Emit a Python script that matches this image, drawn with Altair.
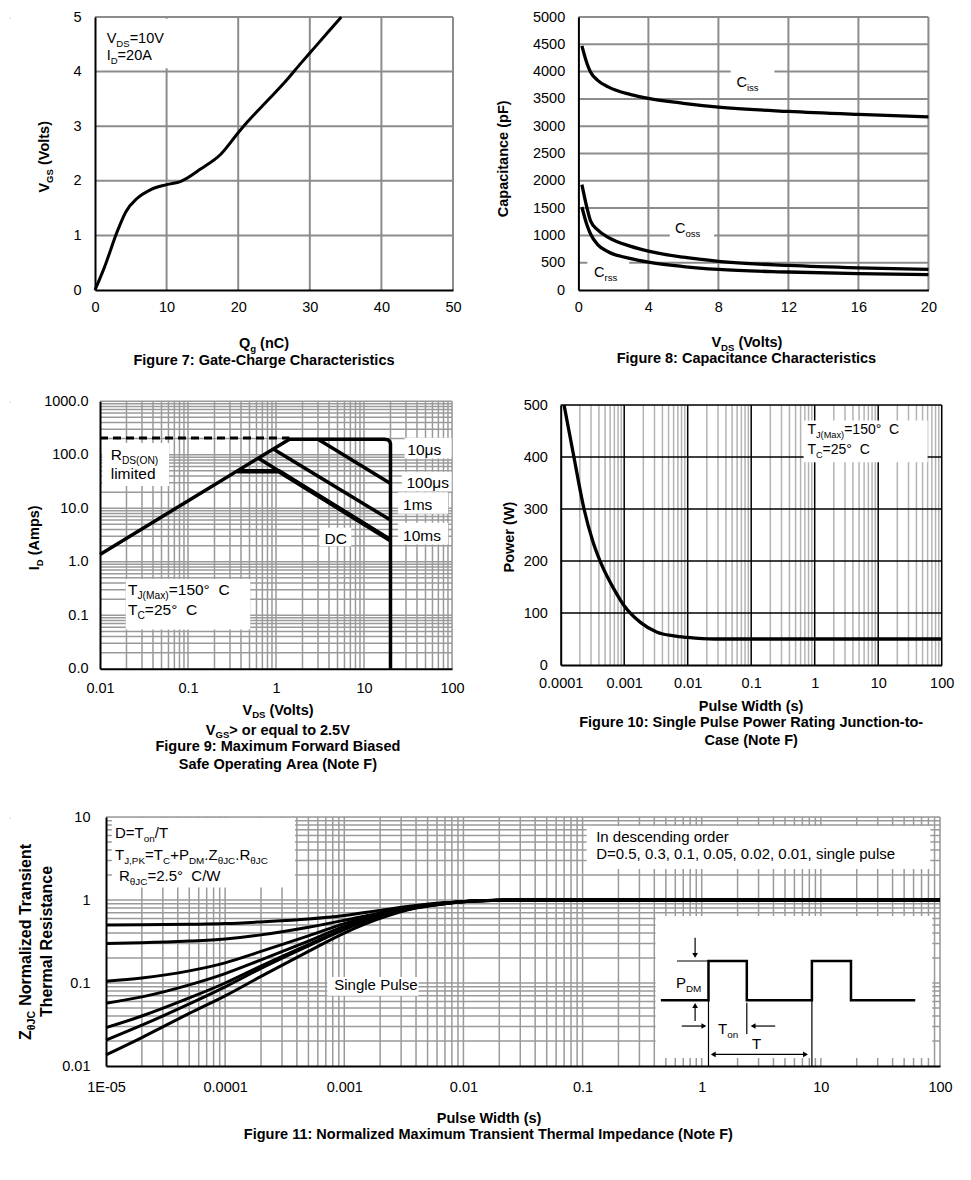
import altair as alt
import pandas as pd

FONT = "Liberation Sans"
SUB = 0.66
LFS = 14.5
GRID_A = "#8c8c8c"
GRID_B = "#9a9a9a"
GRID_C = "#b4b4b4"

# ---------------- Figure 7: gate charge ----------------
QG = [0, 1.3, 3.1, 4.3, 5.9, 7.8, 10, 12, 14.8, 17.6, 20, 21.3, 24.1, 26.4, 28.8, 30.6, 34.4]
VGS = [0, 0.41, 1.07, 1.43, 1.68, 1.84, 1.93, 1.99, 2.22, 2.49, 2.88, 3.08, 3.47, 3.79, 4.16, 4.43, 5.0]
T7X = [0, 10, 20, 30, 40, 50]
T7Y = [0, 1, 2, 3, 4, 5]

# ---------------- Figure 8: capacitance ----------------
VDS8 = [0.2, 0.5, 0.7, 1.1, 1.7, 3, 4, 6, 8, 12, 16, 20]
CISS = [4470, 4140, 3990, 3840, 3720, 3580, 3510, 3420, 3350, 3270, 3215, 3170]
COSS = [1930, 1490, 1260, 1100, 965, 800, 712, 600, 525, 450, 405, 378]
CRSS = [1520, 1180, 1020, 830, 700, 575, 510, 430, 378, 330, 300, 282]
T8X = [0, 4, 8, 12, 16, 20]
T8Y = [0, 500, 1000, 1500, 2000, 2500, 3000, 3500, 4000, 4500, 5000]

# ---------------- Figure 9: SOA ----------------
SOA_DASH_X = [0.01, 1.42]
SOA_DASH_Y = [205, 205]
SOA_10US_X = [0.01, 1.42, 17, 18.7, 19.6, 20, 20]
SOA_10US_Y = [1.37, 195, 195, 190, 178, 160, 0.01]
SOA_100US_X = [3.0, 20]
SOA_100US_Y = [195, 29]
SOA_1MS_X = [0.93, 20]
SOA_1MS_Y = [128, 6.0]
SOA_10MS_X = [0.63, 20]
SOA_10MS_Y = [86, 2.6]
SOA_DC_X = [0.36, 1.08, 20]
SOA_DC_Y = [49, 49, 2.5]
T9X = [0.01, 0.1, 1, 10, 100]
T9Y = [0.01, 0.1, 1, 10, 100, 1000]

# ---------------- Figure 10: single pulse power ----------------
PW_T = [1.13e-4, 1.62e-4, 2.33e-4, 3.2e-4, 4.27e-4, 6.9e-4, 1e-3, 1.8e-3, 3.3e-3, 6e-3, 9.9e-3, 2.6e-2, 100]
PW_P = [500, 399, 300, 238, 197, 146, 114, 82, 63, 56, 53, 50, 50]
T10X = [1e-4, 1e-3, 1e-2, 0.1, 1, 10, 100]
T10Y = [0, 100, 200, 300, 400, 500]

# ---------------- Figure 11: transient thermal impedance ----------------
TH_X = [1e-5, 2e-5, 5e-5, 1e-4, 2e-4, 5e-4, 1e-3, 2e-3, 4e-3, 7e-3, 1.2e-2, 2e-2, 3e-2, 100]
TH_D05 = [0.50, 0.502, 0.51, 0.52, 0.545, 0.59, 0.65, 0.75, 0.86, 0.93, 0.97, 0.995, 1.0, 1.0]
TH_D03 = [0.30, 0.305, 0.32, 0.34, 0.38, 0.47, 0.57, 0.70, 0.84, 0.92, 0.97, 0.995, 1.0, 1.0]
TH_D01 = [0.105, 0.115, 0.14, 0.175, 0.24, 0.37, 0.52, 0.68, 0.83, 0.92, 0.97, 0.995, 1.0, 1.0]
TH_D005 = [0.057, 0.068, 0.095, 0.13, 0.19, 0.32, 0.48, 0.66, 0.82, 0.91, 0.97, 0.995, 1.0, 1.0]
TH_D002 = [0.029, 0.040, 0.066, 0.10, 0.16, 0.29, 0.45, 0.64, 0.81, 0.91, 0.97, 0.995, 1.0, 1.0]
TH_D001 = [0.0205, 0.031, 0.056, 0.09, 0.15, 0.28, 0.44, 0.63, 0.81, 0.91, 0.97, 0.995, 1.0, 1.0]
TH_SP = [0.0136, 0.022, 0.043, 0.07, 0.12, 0.24, 0.40, 0.60, 0.80, 0.90, 0.97, 0.995, 1.0, 1.0]
T11X = [1e-5, 1e-4, 1e-3, 1e-2, 0.1, 1, 10, 100]
T11Y = [0.01, 0.1, 1, 10]
PULSE_X = [0.454, 1.14, 1.14, 2.39, 2.39, 8.41, 8.41, 17.9, 17.9, 62]
PULSE_Y = [0.0619, 0.0619, 0.184, 0.184, 0.0619, 0.0619, 0.184, 0.184, 0.0619, 0.0619]
INSET_SEG = [
    (0.62, 0.184, 1.14, 0.184),
    (0.88, 0.351, 0.88, 0.21),
    (0.88, 0.0348, 0.88, 0.055),
    (0.68, 0.0303, 1.06, 0.0303),
    (4.14, 0.0303, 2.65, 0.0303),
    (1.14, 0.0619, 1.14, 0.0100),
    (2.39, 0.058, 2.39, 0.0243),
    (8.41, 0.0619, 8.41, 0.0100),
    (1.22, 0.0138, 7.6, 0.0138),
]
INSET_HEADS = [
    (0.88, 0.215, "triangle-down"), (0.88, 0.0535, "triangle-up"),
    (1.043, 0.0303, "triangle-right"), (2.70, 0.0303, "triangle-left"),
    (1.25, 0.0138, "triangle-left"), (7.43, 0.0138, "triangle-right"),
]

# ---------------- font metrics (Arial / Liberation Sans) ----------------
REG = {}
for w, chars in {222: "ijl", 278: " \u00a0!,./:;Ift", 333: "()-r", 400: "\u00b0",
                 500: "Jckvsxyz", 556: "0123456789abdeghnopquL\u03bc\u03b8",
                 584: "=+<>", 611: "FTZ", 667: "ABEKPSVXY", 722: "CDHNRUw",
                 778: "GOQ", 833: "Mm", 944: "W"}.items():
    for c in chars:
        REG[c] = w
BOLD = {}
for w, chars in {278: " \u00a0,./ijlI", 333: "():-ft", 389: "r", 400: "\u00b0", 500: "z",
                 556: "0123456789aceksvxyJ\u03bc", 584: "=+<>", 611: "bdghnopquFLTZ\u03b8",
                 667: "EPSVXY", 722: "ABCDHKNRU", 778: "GOQw", 833: "M", 889: "m",
                 944: "W"}.items():
    for c in chars:
        BOLD[c] = w

ONE = [{"k": 0}]


def tw(s, fs, bold):
    t = BOLD if bold else REG
    return sum(t.get(c, 556) for c in s) * fs / 1000.0


def axis(vals, pad, fmt=None, expr=None):
    kw = dict(values=vals, grid=False, ticks=False, tickSize=0, domainColor="black",
              domainWidth=2, labelFont=FONT, labelFontSize=LFS, labelColor="black",
              labelPadding=pad, title=None, zindex=1, labelFlush=False, labelOverlap=False)
    if fmt:
        kw["format"] = fmt
    if expr:
        kw["labelExpr"] = expr
    return alt.Axis(**kw)


def X(field, P):
    return alt.X(field, scale=P["xs"], axis=P["ax"])


def Y(field, P):
    return alt.Y(field, scale=P["ys"], axis=P["ay"])


def rich(P, segs, x, y, fs=14.5, bold=False, align="left", angle=0, ox=0.0, oy=0.0):
    sizes = [fs * SUB if sub else fs for _, sub in segs]
    ws = [tw(t, s, bold) for (t, _), s in zip(segs, sizes)]
    total = sum(ws)
    cur = {"left": 0.0, "center": -total / 2.0, "right": -total}[align]
    out = []
    for (t, sub), s, w in zip(segs, sizes, ws):
        shift = fs * 0.27 if sub else 0.0
        lead = len(t) - len(t.lstrip(" "))
        pos = cur + tw(" " * lead, s, bold)
        txt = t.strip(" ").replace(" ", "\u00a0")
        if angle:
            dx, dy = pos - oy, ox + shift
        else:
            dx, dy = ox + pos, oy + shift
        props = dict(text=txt, align="left", baseline="alphabetic", font=FONT,
                     fontSize=round(s, 2), fontWeight="bold" if bold else "normal",
                     color="black", dx=round(dx, 2), dy=round(dy, 2))
        if angle:
            props["angle"] = angle
        out.append(alt.Chart(alt.Data(values=ONE)).mark_text(**props).encode(
            x=alt.XDatum(x, type="quantitative", scale=P["xs"], axis=P["ax"]),
            y=alt.YDatum(y, type="quantitative", scale=P["ys"], axis=P["ay"])))
        cur += w
    return out


def df_xy(xs, ys, name="a"):
    return pd.DataFrame({"x": xs, "y": ys, "i": list(range(len(xs))), "s": name})


def minors(lo, hi):
    return [m * 10.0 ** e for e in range(lo, hi) for m in range(2, 10)]


def vgrid(P, vals, color, w):
    return alt.Chart(pd.DataFrame({"v": vals})).mark_rule(color=color, strokeWidth=w).encode(
        x=X("v:Q", P))


def hgrid(P, vals, color, w):
    return alt.Chart(pd.DataFrame({"v": vals})).mark_rule(color=color, strokeWidth=w).encode(
        y=Y("v:Q", P))


def boxes(P, rects):
    d = pd.DataFrame(rects, columns=["x1", "x2", "y1", "y2"])
    return alt.Chart(d).mark_rect(color="white").encode(
        x=X("x1:Q", P), x2="x2:Q", y=Y("y1:Q", P), y2="y2:Q")


def curves(P, d, width, dash=None, interp="monotone"):
    props = dict(color="black", strokeWidth=width, interpolate=interp)
    if dash:
        props["strokeDash"] = dash
    return alt.Chart(d).mark_line(**props).encode(
        x=X("x:Q", P), y=Y("y:Q", P), detail="s:N", order="i:Q")


def marker(x, y1, y2):
    return alt.Chart(alt.Data(values=ONE)).mark_rule(color="white", strokeWidth=1).encode(
        x=alt.value(x), y=alt.value(y1), y2=alt.value(y2))


def spacer():
    return alt.Chart(alt.Data(values=ONE)).mark_rect(color="white").encode(
        x=alt.value(0), x2=alt.value(1), y=alt.value(0), y2=alt.value(1)
    ).properties(width=1, height=1)


# ================= Figure 7 =================
P7 = dict(xs=alt.Scale(domain=[0, 50], nice=False, zero=False),
          ys=alt.Scale(domain=[0, 5], nice=False, zero=False),
          ax=axis(T7X, 10), ay=axis(T7Y, 14))
L7 = [vgrid(P7, T7X[1:], GRID_A, 2), hgrid(P7, T7Y[1:], GRID_A, 2),
      boxes(P7, [(0, 10.6, 4.06, 4.97)]),
      curves(P7, df_xy(QG, VGS), 3)]
L7 += rich(P7, [("V", 0), ("DS", 1), ("=10V", 0)], 1.63, 4.53)
L7 += rich(P7, [("I", 0), ("D", 1), ("=20A", 0)], 1.63, 4.22)
L7 += rich(P7, [("V", 0), ("GS", 1), (" (Volts)", 0)], 0, 2.45, bold=True,
           align="center", angle=270, ox=-45.6)
L7 += rich(P7, [("Q", 0), ("g", 1), (" (nC)", 0)], 23.6, 0, bold=True, align="center", oy=57.8)
L7 += rich(P7, [("Figure 7: Gate-Charge Characteristics", 0)], 23.6, 0, bold=True,
           align="center", oy=74.5)
L7.append(marker(-83, -5.5, 361.4))
fig7 = alt.layer(*L7).properties(width=358, height=273)

# ================= Figure 8 =================
P8 = dict(xs=alt.Scale(domain=[0, 20], nice=False, zero=False),
          ys=alt.Scale(domain=[0, 5000], nice=False, zero=False),
          ax=axis(T8X, 10.5, fmt="d"), ay=axis(T8Y, 13.7, fmt="d"))
d8 = pd.concat([df_xy(VDS8, CISS, "Ciss"), df_xy(VDS8, COSS, "Coss"), df_xy(VDS8, CRSS, "Crss")])
L8 = [vgrid(P8, T8X[1:], GRID_A, 2), hgrid(P8, T8Y[1:], GRID_A, 2),
      boxes(P8, [(8.7, 11.2, 3650, 4250), (5.22, 7.75, 880, 1230), (0.51, 2.9, 120, 565)]),
      curves(P8, d8, 3.3)]
L8 += rich(P8, [("C", 0), ("iss", 1)], 9.03, 3722)
L8 += rich(P8, [("C", 0), ("oss", 1)], 5.52, 1051)
L8 += rich(P8, [("C", 0), ("rss", 1)], 0.89, 241)
L8 += rich(P8, [("Capacitance (pF)", 0)], 0, 2402, bold=True, align="center", angle=270, ox=-70.2)
L8 += rich(P8, [("V", 0), ("DS", 1), (" (Volts)", 0)], 9.66, 0, bold=True, align="center", oy=56.6)
L8 += rich(P8, [("Figure 8: Capacitance Characteristics", 0)], 9.6, 0, bold=True,
           align="center", oy=73.3)
fig8 = alt.layer(*L8).properties(width=350, height=273)

# ================= Figure 9 =================
P9 = dict(xs=alt.Scale(type="log", domain=[0.01, 100], nice=False),
          ys=alt.Scale(type="log", domain=[0.01, 1000], nice=False),
          ax=axis(T9X, 13, expr="format(datum.value, '~g')"),
          ay=axis(T9Y, 12, expr="format(datum.value, '.1f')"))
d9 = pd.concat([df_xy(SOA_10US_X, SOA_10US_Y, "10us"), df_xy(SOA_100US_X, SOA_100US_Y, "100us"),
                df_xy(SOA_1MS_X, SOA_1MS_Y, "1ms"), df_xy(SOA_10MS_X, SOA_10MS_Y, "10ms")])
L9 = [vgrid(P9, minors(-2, 2) + T9X[1:], GRID_B, 1.5),
      hgrid(P9, minors(-2, 3) + T9Y[1:], GRID_B, 1.5),
      boxes(P9, [(0.0106, 0.061, 26, 165), (29, 99, 85, 207), (26.9, 99, 20.8, 47.9),
                 (24.4, 90.5, 7.9, 19.9), (24.4, 90.5, 2.1, 5.33), (3.12, 7.17, 1.95, 4.3),
                 (0.0196, 0.51, 0.054, 0.478)]),
      curves(P9, df_xy(SOA_DASH_X, SOA_DASH_Y, "rds"), 3, dash=[8, 5], interp="linear"),
      curves(P9, d9, 3.5, interp="linear"),
      curves(P9, df_xy(SOA_DC_X, SOA_DC_Y, "dc"), 4.5, interp="linear")]
F9 = 15.5
L9 += rich(P9, [("R", 0), ("DS(ON)", 1)], 0.01324, 81.3, fs=F9)
L9 += rich(P9, [("limited", 0)], 0.01324, 35.9, fs=F9)
L9 += rich(P9, [("10\u03bcs", 0)], 31.1, 98, fs=F9)
L9 += rich(P9, [("100\u03bcs", 0)], 30.4, 24.1, fs=F9)
L9 += rich(P9, [("1ms", 0)], 27.8, 9.18, fs=F9)
L9 += rich(P9, [("10ms", 0)], 27.8, 2.42, fs=F9)
L9 += rich(P9, [("DC", 0)], 3.56, 2.19, fs=F9)
L9 += rich(P9, [("T", 0), ("J(Max)", 1), ("=150\u00b0\u00a0\u00a0C", 0)], 0.0208, 0.244, fs=F9)
L9 += rich(P9, [("T", 0), ("C", 1), ("=25\u00b0\u00a0\u00a0C", 0)], 0.0208, 0.103, fs=F9)
L9 += rich(P9, [("I", 0), ("D", 1), (" (Amps)", 0)], 0.01, 2.8, bold=True, align="center",
           angle=270, ox=-60.6)
L9 += rich(P9, [("V", 0), ("DS", 1), (" (Volts)", 0)], 1.07, 0.01, bold=True, align="center", oy=45.7)
L9 += rich(P9, [("V", 0), ("GS", 1), ("> or equal to 2.5V", 0)], 1.05, 0.01, bold=True,
           align="center", oy=65.7)
L9 += rich(P9, [("Figure 9: Maximum Forward Biased", 0)], 1.05, 0.01, bold=True, align="center", oy=82.4)
L9 += rich(P9, [("Safe Operating Area (Note F)", 0)], 1.05, 0.01, bold=True, align="center", oy=99.7)
L9.append(marker(-88, -19.7, 401.6))
fig9 = alt.layer(*L9).properties(width=352, height=267.6)

# ================= Figure 10 =================
P10 = dict(xs=alt.Scale(type="log", domain=[1e-4, 100], nice=False),
           ys=alt.Scale(domain=[0, 500], nice=False, zero=False),
           ax=axis(T10X, 11, expr="format(datum.value, '~g')"), ay=axis(T10Y, 13.3, fmt="d"))
L10 = [vgrid(P10, minors(-4, 2), GRID_C, 1.5), vgrid(P10, T10X[1:], "black", 1.5),
       hgrid(P10, T10Y[1:], "black", 1.5),
       boxes(P10, [(0.67, 60, 390, 470)]),
       curves(P10, df_xy(PW_T, PW_P), 3.3)]
L10 += rich(P10, [("T", 0), ("J(Max)", 1), ("=150\u00b0\u00a0\u00a0C", 0)], 0.767, 444, fs=14)
L10 += rich(P10, [("T", 0), ("C", 1), ("=25\u00b0\u00a0\u00a0C", 0)], 0.767, 406, fs=14)
L10 += rich(P10, [("Power (W)", 0)], 1e-4, 246, bold=True, align="center", angle=270, ox=-46.9)
L10 += rich(P10, [("Pulse Width (s)", 0)], 0.1, 0, bold=True, align="center", oy=46)
L10 += rich(P10, [("Figure 10: Single Pulse Power Rating Junction-to-", 0)], 0.1, 0, bold=True,
            align="center", oy=62.3)
L10 += rich(P10, [("Case (Note F)", 0)], 0.1, 0, bold=True, align="center", oy=80)
fig10 = alt.layer(*L10).properties(width=381, height=260)

# ================= Figure 11 =================
P11 = dict(xs=alt.Scale(type="log", domain=[1e-5, 100], nice=False),
           ys=alt.Scale(type="log", domain=[0.01, 10], nice=False),
           ax=axis(T11X, 14, expr="datum.value < 5e-5 ? '1E-05' : format(datum.value, '~g')"),
           ay=axis(T11Y, 16, expr="format(datum.value, '~g')"))
d11 = pd.concat([df_xy(TH_X, v, n) for n, v in [("0.5", TH_D05), ("0.3", TH_D03), ("0.1", TH_D01),
                                                 ("0.05", TH_D005), ("0.02", TH_D002),
                                                 ("0.01", TH_D001), ("sp", TH_SP)]])
seg = pd.DataFrame(INSET_SEG, columns=["x1", "y1", "x2", "y2"])
heads = pd.DataFrame(INSET_HEADS, columns=["x", "y", "sh"])
L11 = [vgrid(P11, minors(-5, 2) + T11X[1:], GRID_B, 1.5),
       hgrid(P11, minors(-2, 1) + T11Y[1:], GRID_B, 1.5),
       boxes(P11, [(1.12e-5, 3.86e-4, 1.41, 9.7), (0.108, 83, 2.36, 7.8), (7.2e-4, 4.2e-3, 0.07, 0.118),
                   (0.41, 86, 0.0125, 0.641)]),
       curves(P11, d11, 3),
       curves(P11, df_xy(PULSE_X, PULSE_Y, "pulse"), 2.5, interp="linear"),
       alt.Chart(seg).mark_rule(color="black", strokeWidth=1.2).encode(
           x=X("x1:Q", P11), y=Y("y1:Q", P11), x2="x2:Q", y2="y2:Q"),
       alt.Chart(heads).mark_point(filled=True, color="black", size=32, opacity=1).encode(
           x=X("x:Q", P11), y=Y("y:Q", P11), shape=alt.Shape("sh:N", scale=None))]
F11 = 15
L11 += rich(P11, [("D=T", 0), ("on", 1), ("/T", 0)], 1.19e-5, 5.54, fs=F11)
L11 += rich(P11, [("T", 0), ("J,PK", 1), ("=T", 0), ("C", 1), ("+P", 0), ("DM", 1), (".Z", 0),
                  ("\u03b8JC", 1), (".R", 0), ("\u03b8JC", 1)], 1.19e-5, 3.0, fs=F11)
L11 += rich(P11, [("R", 0), ("\u03b8JC", 1), ("=2.5\u00b0\u00a0\u00a0C/W", 0)], 1.285e-5, 1.69, fs=F11)
L11 += rich(P11, [("In descending order", 0)], 0.13, 5.0, fs=F11)
L11 += rich(P11, [("D=0.5, 0.3, 0.1, 0.05, 0.02, 0.01, single pulse", 0)], 0.13, 3.09, fs=F11)
L11 += rich(P11, [("Single Pulse", 0)], 8.24e-4, 0.0817, fs=F11)
L11 += rich(P11, [("P", 0), ("DM", 1)], 0.607, 0.0877, fs=F11)
L11 += rich(P11, [("T", 0), ("on", 1)], 1.37, 0.0245, fs=F11)
L11 += rich(P11, [("T", 0)], 2.64, 0.0159, fs=F11)
L11 += rich(P11, [("Z", 0), ("\u03b8JC", 1), (" Normalized Transient", 0)], 1e-5, 0.316, fs=16,
            bold=True, align="center", angle=270, ox=-75)
L11 += rich(P11, [("Thermal Resistance", 0)], 1e-5, 0.316, fs=16, bold=True, align="center",
            angle=270, ox=-54)
L11 += rich(P11, [("Pulse Width (s)", 0)], 0.01644, 0.01, bold=True, align="center", oy=56.7)
L11 += rich(P11, [("Figure 11: Normalized Maximum Transient Thermal Impedance (Note F)", 0)], 0.01644,
            0.01, bold=True, align="center", oy=73.3)
L11.append(marker(-94, -12, 334))
fig11 = alt.layer(*L11).properties(width=834, height=249)

# ================= layout =================
row1 = alt.hconcat(spacer(), alt.hconcat(fig7, fig8, spacing=125.4, bounds="flush"), spacing=0)
row2 = alt.hconcat(spacer(), alt.hconcat(fig9, fig10, spacing=108.7, bounds="flush", center=True),
                   spacing=0)
row3 = alt.hconcat(spacer(), fig11, spacing=0)
chart = alt.concat(row1, row2, row3, columns=1, align="none", spacing=0).properties(
    padding={"left": 0, "top": 0, "right": 4, "bottom": 4}
).configure_view(stroke=None).configure(background="white")

chart.save("out.html", embed_options={"renderer": "svg", "actions": False})
